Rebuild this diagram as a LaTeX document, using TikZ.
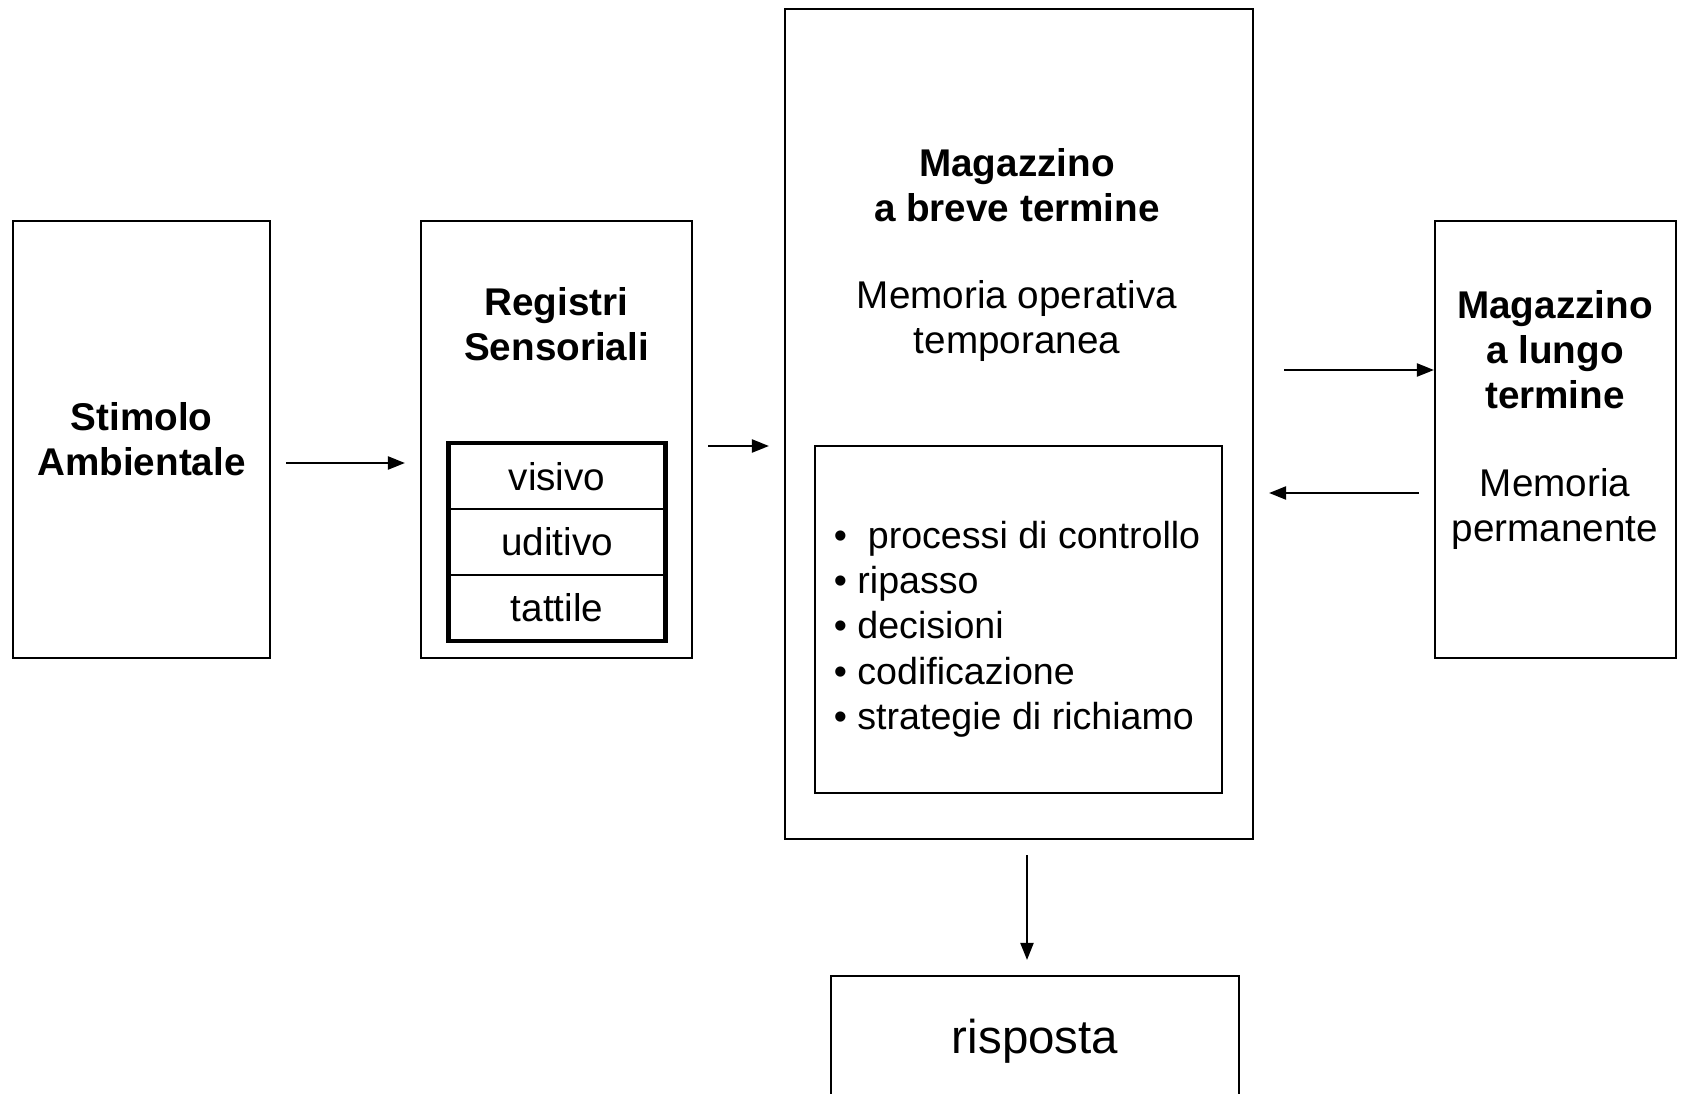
\documentclass[tikz,border=0pt]{standalone}
\usepackage{fontspec}
\setmainfont{Liberation Sans}
\usetikzlibrary{arrows.meta}
\begin{document}
\begin{tikzpicture}[
  box/.style={draw,line width=0.6pt,inner sep=0pt},
  arr/.style={-{Triangle[length=1.7mm,width=1.3mm]},line width=0.6pt,shorten <=0.15cm,shorten >=0.15cm},
  txt/.style={align=center,font=\fontsize{11}{12.8}\selectfont},
  bf/.style={align=center,font=\fontsize{11}{12.8}\selectfont\bfseries}]
  \useasboundingbox (0,0) rectangle (16.83,10.93);

  \node[box,bf,minimum width=2.57cm,minimum height=4.37cm] (stim) at (1.415,6.535) {Stimolo\\Ambientale};

  \node[box,minimum width=2.71cm,minimum height=4.37cm] (reg) at (5.565,6.535) {};
  \node[bf] (regtit) at (5.565,7.69) {Registri\\Sensoriali};
  \node[box,txt,minimum width=2.14cm,minimum height=0.653cm] (vis) at (5.57,6.163) {visivo};
  \node[box,txt,minimum width=2.14cm,minimum height=0.653cm] (udi) at (5.57,5.51) {uditivo};
  \node[box,txt,minimum width=2.14cm,minimum height=0.653cm] (tat) at (5.57,4.857) {tattile};
  \draw[line width=1.4pt] (vis.north west) rectangle (tat.south east);

  \node[box,minimum width=4.68cm,minimum height=8.3cm] (mbt) at (10.19,6.69) {};
  \node[bf] (mbttit) at (10.17,9.075) {Magazzino\\a breve termine};
  \node[txt] (mbtsub) at (10.17,7.72) {Memoria operativa\\temporanea};
  \node[box,minimum width=4.07cm,minimum height=3.47cm] (proc) at (10.185,4.735) {};
  \node[align=left,font=\fontsize{10.7}{12.9}\selectfont] (proclist) at (10.17,4.64)
    {•\ \ processi di controllo\\• ripasso\\• decisioni\\• codificazione\\• strategie di richiamo};

  \node[box,minimum width=2.41cm,minimum height=4.37cm] (mlt) at (15.555,6.535) {};
  \node[bf] (mlttit) at (15.55,7.43) {Magazzino\\a lungo\\termine};
  \node[txt] (mltsub) at (15.55,5.84) {Memoria\\permanente};

  \node[box,minimum width=4.08cm,minimum height=1.3cm,font=\fontsize{13.5}{15}\selectfont] (risp) at (10.35,0.52) {risposta};

  \draw[arr] (stim.east |- 0,6.30) -- (reg.west |- 0,6.30);
  \draw[arr] (reg.east |- 0,6.47) -- (mbt.west |- 0,6.47);
  \draw[arr,shorten <=0.3cm,shorten >=0pt] (mbt.east |- 0,7.23) -- (mlt.west |- 0,7.23);
  \draw[arr] (mlt.west |- 0,6.00) -- (mbt.east |- 0,6.00);
  \draw[arr] (10.27,0 |- mbt.south) -- (10.27,0 |- risp.north);
\end{tikzpicture}
\end{document}
